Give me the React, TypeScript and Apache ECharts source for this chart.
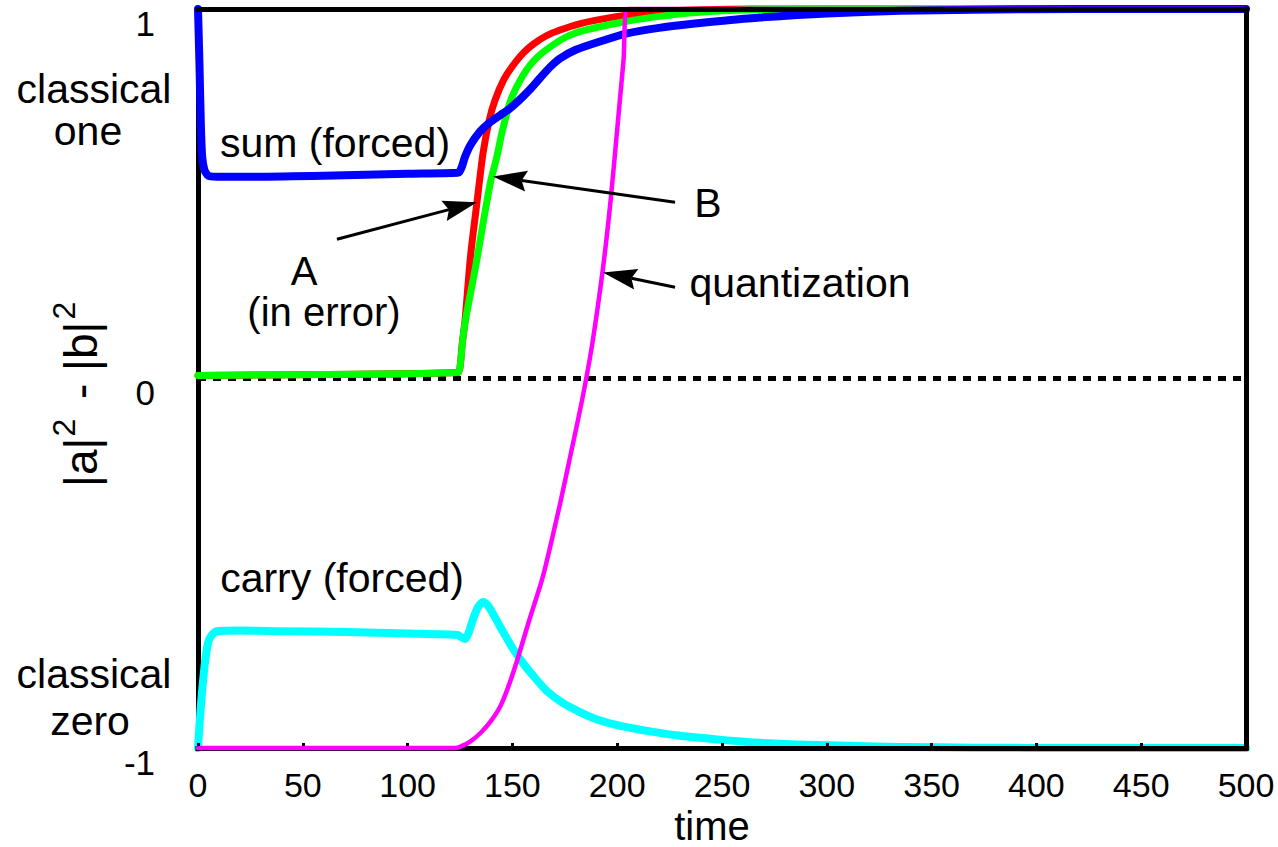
import React, { useEffect, useRef } from "react";
import * as echarts from "echarts";

// ---------- data ----------
const xMin = 0;
const xMax = 500;
const xStep = 50;
const yMin = -1;
const yMax = 1;
const yStep = 1;

const sumT = [0, 0.7, 1.4, 2, 3, 4.5, 6, 9, 20, 60, 100, 124, 124.8, 126, 127.4, 130, 134.5, 139, 144, 149, 153.6, 158, 163, 168, 172.7, 180, 191.8, 204.7, 220, 236, 252, 268, 300, 335, 370, 420, 500];
const sumV = [1, 0.85, 0.68, 0.6, 0.565, 0.551, 0.547, 0.546, 0.546, 0.549, 0.554, 0.557, 0.56, 0.575, 0.6, 0.632, 0.668, 0.692, 0.712, 0.732, 0.755, 0.78, 0.812, 0.843, 0.866, 0.889, 0.912, 0.934, 0.949, 0.96, 0.969, 0.977, 0.988, 0.995, 0.998, 1, 1];

const aT = [0, 60, 124, 125, 126, 127.4, 130, 133.1, 136, 139, 141.7, 146, 150, 155, 160, 166, 172.7, 182, 192, 205, 217, 240, 265, 300, 500];
const aV = [0.008, 0.011, 0.016, 0.03, 0.09, 0.157, 0.33, 0.477, 0.61, 0.7, 0.753, 0.81, 0.845, 0.88, 0.905, 0.927, 0.943, 0.96, 0.972, 0.984, 0.993, 0.998, 1, 1, 1];

const bT = [0, 60, 124, 125, 126.4, 128, 130, 133, 136, 139.5, 142.6, 145, 149, 155, 162, 172.7, 180, 188.5, 204.7, 220, 236, 260, 300, 500];
const bV = [0.008, 0.011, 0.016, 0.03, 0.11, 0.17, 0.23, 0.32, 0.42, 0.53, 0.6, 0.665, 0.75, 0.82, 0.87, 0.915, 0.935, 0.948, 0.967, 0.98, 0.99, 0.997, 1, 1];

const carryT = [0, 0.8, 1.6, 2.4, 3.3, 4.8, 6.5, 9, 20, 40, 71, 100, 124, 125.5, 127.4, 129, 131, 133.5, 136, 138, 140, 143, 146, 150, 155, 160, 166.5, 174, 182, 190, 200, 215.6, 230, 250, 268, 290, 310, 335, 370, 420, 500];
const carryV = [-1, -0.93, -0.87, -0.82, -0.77, -0.715, -0.695, -0.684, -0.682, -0.684, -0.686, -0.69, -0.694, -0.7, -0.705, -0.69, -0.655, -0.62, -0.605, -0.612, -0.629, -0.66, -0.69, -0.729, -0.77, -0.805, -0.846, -0.878, -0.902, -0.922, -0.938, -0.955, -0.967, -0.978, -0.986, -0.991, -0.994, -0.997, -0.999, -1, -1];

const quantT = [0, 123, 125, 130, 135, 140, 144, 148, 152.2, 158, 164.6, 172.7, 178, 183.2, 188, 193.2, 197, 200.4, 203, 205.2, 500];
const quantV = [-1, -1, -0.997, -0.982, -0.958, -0.925, -0.89, -0.835, -0.764, -0.655, -0.535, -0.34, -0.2, -0.06, 0.09, 0.298, 0.49, 0.699, 0.86, 1, 1];

const zeroT = [0, 500];
const zeroV = [0, 0];

// annotation arrows: [startT, startV, tipT, tipV] in data units
const arrowA = [66.3, 0.377, 133.1, 0.477];
const arrowB = [227.6, 0.477, 140.7, 0.547];
const arrowQ = [227.6, 0.247, 193.2, 0.287];

const FONT = "'Liberation Sans', Arial, Helvetica, sans-serif";

function pairs(t: number[], v: number[]) {
  return t.map((x, i) => [x, v[i]]);
}

function lineSeries(name: string, t: number[], v: number[], color: string, width: number, z: number) {
  return {
    name,
    type: "line",
    data: pairs(t, v),
    symbol: "none",
    showSymbol: false,
    clip: false,
    silent: true,
    smooth: 0.25,
    z,
    lineStyle: { color, width, cap: "round", join: "round" },
  };
}

function textEl(text: string, x: number, y: number, size = 41) {
  return {
    type: "text",
    x,
    y,
    z: 20,
    style: {
      text,
      fill: "#000",
      fontSize: size,
      fontFamily: FONT,
      lineHeight: 34,
      align: "center",
      verticalAlign: "middle",
      textAlign: "center",
      textVerticalAlign: "middle",
    },
  };
}

export default function App() {
  const ref = useRef<HTMLDivElement>(null);

  useEffect(() => {
    if (!ref.current) return;
    const chart = echarts.init(ref.current, null, { renderer: "svg" });

    const axisLineStyle = { color: "#000", width: 5, cap: "square" };

    chart.setOption({
      animation: false,
      backgroundColor: "#fff",
      grid: { left: 198, right: 32, top: 9, bottom: 99, containLabel: false },
      xAxis: [
        {
          type: "value",
          min: xMin,
          max: xMax,
          interval: xStep,
          position: "bottom",
          z: 3,
          axisLine: { show: true, onZero: false, lineStyle: axisLineStyle },
          axisTick: { show: true, inside: true, length: 5, lineStyle: { color: "#000", width: 3 } },
          axisLabel: { color: "#000", fontSize: 34, fontFamily: FONT, margin: 20 },
          splitLine: { show: false },
        },
        {
          type: "value",
          min: xMin,
          max: xMax,
          interval: xStep,
          position: "top",
          z: 5,
          axisLine: { show: true, onZero: false, lineStyle: axisLineStyle },
          axisTick: { show: false },
          axisLabel: { show: false },
          splitLine: { show: false },
        },
      ],
      yAxis: [
        {
          type: "value",
          min: yMin,
          max: yMax,
          interval: yStep,
          position: "left",
          axisLine: { show: true, onZero: false, lineStyle: axisLineStyle },
          axisTick: { show: false },
          axisLabel: {
            color: "#000",
            fontSize: 35,
            fontFamily: FONT,
            margin: 43,
            lineHeight: 28,
            verticalAlign: "top",
          },
          splitLine: { show: false },
        },
        {
          type: "value",
          min: yMin,
          max: yMax,
          interval: yStep,
          position: "right",
          z: 5,
          axisLine: { show: true, onZero: false, lineStyle: axisLineStyle },
          axisTick: { show: false },
          axisLabel: { show: false },
          splitLine: { show: false },
        },
      ],
      series: [
        {
          name: "zero",
          type: "line",
          data: pairs(zeroT, zeroV),
          symbol: "none",
          silent: true,
          z: 1,
          lineStyle: { color: "#000", width: 5, type: [8, 7] },
        },
        lineSeries("A (in error)", aT, aV, "#ff0000", 7, 2),
        lineSeries("B", bT, bV, "#00ff00", 7, 2),
        lineSeries("sum (forced)", sumT, sumV, "#0000ff", 8, 2),
        lineSeries("carry (forced)", carryT, carryV, "#00ffff", 8, 2),
        lineSeries("quantization", quantT, quantV, "#ff00ff", 4.5, 4),
      ],
    });

    const toPx = (t: number, v: number) => chart.convertToPixel({ gridIndex: 0 }, [t, v]) as number[];

    const arrowEls = (a: number[]) => {
      const p0 = toPx(a[0], a[1]);
      const p1 = toPx(a[2], a[3]);
      const dx = p1[0] - p0[0];
      const dy = p1[1] - p0[1];
      const len = Math.hypot(dx, dy);
      const ux = dx / len;
      const uy = dy / len;
      const nx = -uy;
      const ny = ux;
      const L = 34;
      const W = 10.5;
      const notch = 5;
      const bx = p1[0] - ux * L;
      const by = p1[1] - uy * L;
      const mx = p1[0] - ux * (L - notch);
      const my = p1[1] - uy * (L - notch);
      return [
        {
          type: "line",
          z: 15,
          shape: { x1: p0[0], y1: p0[1], x2: mx, y2: my },
          style: { stroke: "#000", lineWidth: 3 },
        },
        {
          type: "polygon",
          z: 15,
          shape: {
            points: [
              [p1[0], p1[1]],
              [bx + nx * W, by + ny * W],
              [mx, my],
              [bx - nx * W, by - ny * W],
            ],
          },
          style: { fill: "#000" },
        },
      ];
    };

    const supStyle = { fill: "#000", fontSize: 32, fontFamily: FONT, align: "left", verticalAlign: "middle", textAlign: "left", textVerticalAlign: "middle" };
    const bodyStyle = { fill: "#000", fontSize: 46, fontFamily: FONT, align: "left", verticalAlign: "middle", textAlign: "left", textVerticalAlign: "middle" };

    chart.setOption({
      graphic: [
        textEl("classical", 94, 89),
        textEl("one", 88, 131),
        textEl("classical", 94, 674),
        textEl("zero", 90, 721),
        textEl("sum (forced)", 335, 143),
        textEl("B", 708, 203),
        textEl("A", 304, 271, 40),
        textEl("(in error)", 324, 312, 40),
        textEl("quantization", 800, 283),
        textEl("carry (forced)", 342, 578),
        textEl("time", 712, 826, 40),
        {
          type: "group",
          x: 80.5,
          y: 483,
          rotation: Math.PI / 2,
          children: [
            { type: "text", x: -4, y: 0, style: { ...bodyStyle, text: "|a|" } },
            { type: "text", x: 46.5, y: -16.5, style: { ...supStyle, text: "2" } },
            { type: "text", x: 84, y: 0, style: { ...bodyStyle, text: "-" } },
            { type: "text", x: 112, y: 0, style: { ...bodyStyle, text: "|b|" } },
            { type: "text", x: 163.5, y: -16.5, style: { ...supStyle, text: "2" } },
          ],
        },
        ...arrowEls(arrowA),
        ...arrowEls(arrowB),
        ...arrowEls(arrowQ),
      ],
    });

    return () => chart.dispose();
  }, []);

  return (
    <div
      ref={ref}
      style={{ position: "fixed", left: 0, top: 0, width: 1278, height: 847, background: "#fff" }}
    />
  );
}
